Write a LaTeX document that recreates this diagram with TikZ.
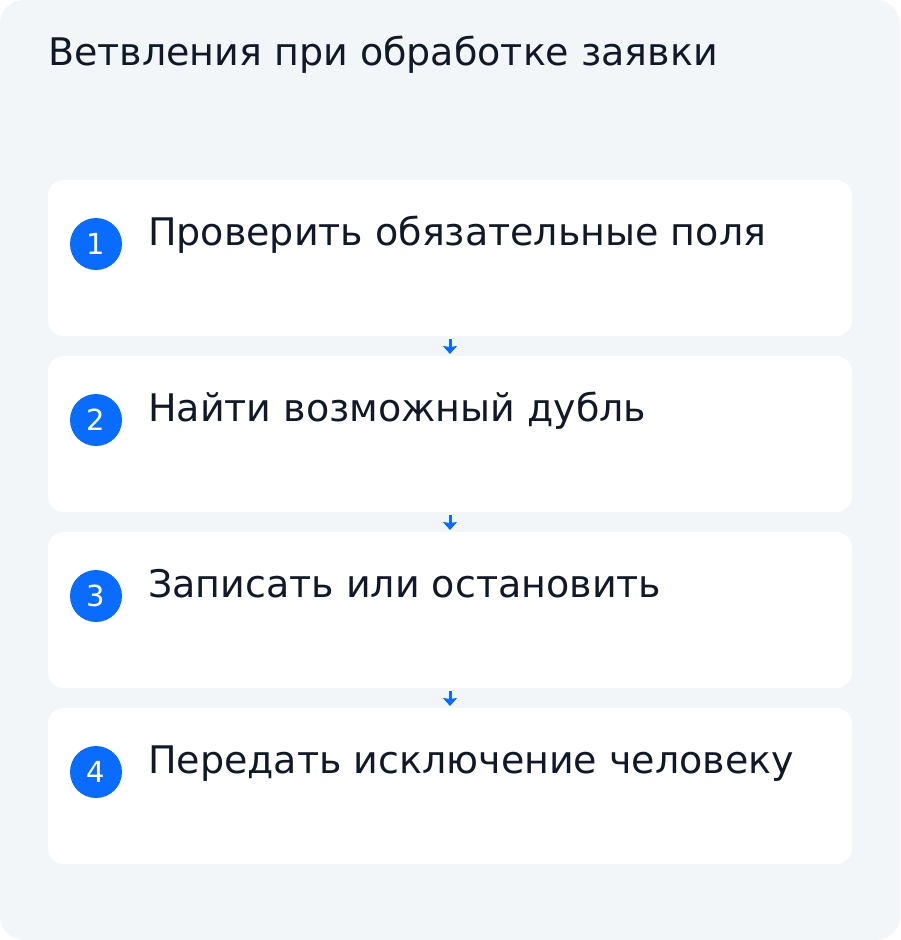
\documentclass[tikz,border=0pt]{standalone}
\usepackage{fontspec}
\setmainfont{DejaVu Sans}
\usetikzlibrary{arrows.meta}
\definecolor{bgc}{HTML}{F3F6F9}
\definecolor{txt}{HTML}{111827}
\definecolor{acc}{HTML}{0A6CFF}
\tikzset{
  x=1pt,y=-1pt,
  card/.style={fill=white,draw=none,rounded corners=16pt},
  badge/.style={circle,fill=acc,minimum size=52pt,inner sep=0pt,text=white,font=\fontsize{29}{34}\selectfont},
  label/.style={anchor=base west,text=txt,inner sep=0pt,font=\fontsize{38}{44}\selectfont},
  flow/.style={draw=acc,line width=3pt,-{Stealth[length=8pt,width=14pt,inset=1pt]}}
}
\begin{document}
\begin{tikzpicture}
\useasboundingbox (0,0) rectangle (900,940);
\fill[white] (0,0) rectangle (900,940);
\fill[bgc,rounded corners=24pt] (0,0) rectangle (900,940);
\node[anchor=base west,text=txt,inner sep=0pt,font=\fontsize{38}{44}\selectfont] (title) at (48,65) {Ветвления при обработке заявки};
\foreach \i/\t [count=\k] in {0/{Проверить обязательные поля},1/{Найти возможный дубль},2/{Записать или остановить},3/{Передать исключение человеку}}{
  \pgfmathsetmacro{\top}{180+176*\i}
  \fill[card] (48,\top) rectangle (852,\top+156);
  \node[badge] (b\k) at (96,\top+64) {\k};
  \node[label] (l\k) at (148,\top+65) {\t};
}
\foreach \i in {1,2,3}{
  \pgfmathsetmacro{\y}{336+176*(\i-1)}
  \coordinate (s\i) at (450,\y+3);
  \coordinate (e\i) at (450,\y+18);
  \draw[flow] (s\i) -- (e\i);
}
\end{tikzpicture}
\end{document}
